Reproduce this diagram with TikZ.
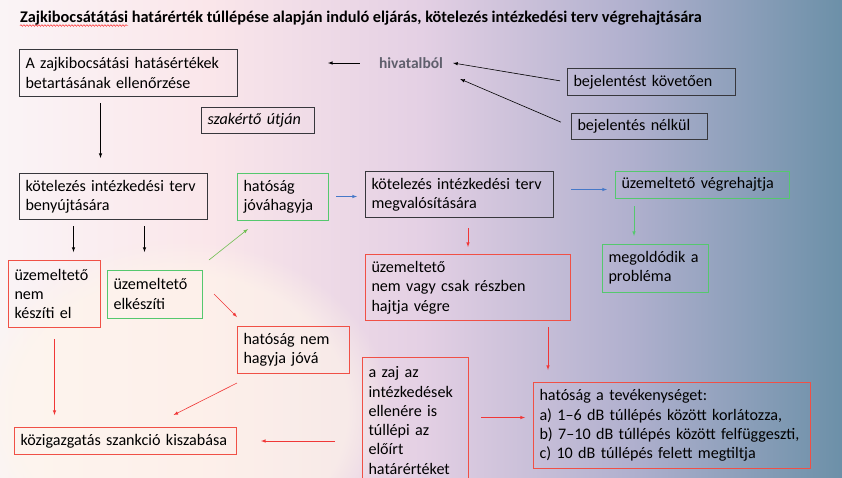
\documentclass[tikz,border=0pt]{standalone}
\usepackage{fontspec}
\setmainfont{Carlito}
\usepackage{tikz}
\usetikzlibrary{arrows, decorations.pathmorphing, fadings}
\definecolor{bgA}{RGB}{250,244,246}
\definecolor{bgB}{RGB}{250,230,234}
\definecolor{bgC}{RGB}{228,208,228}
\definecolor{bgD}{RGB}{176,176,206}
\definecolor{bgE}{RGB}{108,144,168}
\definecolor{bgcream}{RGB}{255,246,234}
\definecolor{bordgray}{RGB}{55,55,60}
\definecolor{bordgreen}{RGB}{85,200,110}
\definecolor{bordred}{RGB}{240,80,70}
\definecolor{arrred}{RGB}{240,55,55}
\definecolor{arrblue}{RGB}{70,120,200}
\definecolor{arrgreen}{RGB}{110,190,80}
\definecolor{hivgray}{RGB}{95,95,108}
\pgfdeclarehorizontalshading{backdrop}{100bp}{color(0bp)=(bgA); color(25bp)=(bgA); color(37.5bp)=(bgB); color(50bp)=(bgC); color(62.5bp)=(bgD); color(75bp)=(bgE); color(100bp)=(bgE)}
\tikzstyle{box} = [rectangle, anchor=north west, align=left, inner xsep=6pt, inner ysep=3pt, draw=bordgray, line width=1pt]
\tikzstyle{gbox} = [box, draw=none]
\tikzstyle{rbox} = [box, draw=bordred]
\tikzstyle{arrow} = [line width=0.6pt, ->, >=latex]
\tikzstyle{rarrow} = [arrow, draw=arrred]
\tikzstyle{barrow} = [arrow, draw=arrblue]
\tikzstyle{garrow} = [arrow, draw=arrgreen]

\begin{document}
\begin{tikzpicture}[x=1pt, y=-1pt, font=\fontsize{16.1}{19.3}\selectfont]
  \useasboundingbox (0,0) rectangle (842,477);
  \clip (0,0) rectangle (842,477);
  \shade [shading=backdrop] (0,0) rectangle (842,477);
  \fill [bgcream, path fading=circle with fuzzy edge 20 percent, opacity=0.6] (180,410) ellipse (210 and 170);

  \node (title) [anchor=base west, inner sep=0pt, font=\fontsize{16.3}{19}\selectfont\bfseries] at (20,22) {Zajkibocsátátási határérték túllépése alapján induló eljárás, kötelezés intézkedési terv végrehajtására};
  \draw [red, line width=0.4pt, decorate, decoration={snake, amplitude=0.8pt, segment length=3pt}] ([yshift=-3.5pt]title.base west) -- ++(108,0);

  \node (chk) [box, text width=206pt, minimum height=47pt] at (19,49) {A zajkibocsátási hatásértékek\\betartásának ellenőrzése};
  \node (hiv) [inner sep=2pt, text=hivgray, font=\fontsize{15.5}{19}\selectfont\bfseries] at (411,63) {hivatalból};
  \node (kov) [box, text width=156pt, minimum height=27pt] at (567,68) {bejelentést követően};
  \node (nel) [box, text width=124pt, minimum height=26pt] at (571,113) {bejelentés nélkül};
  \node (szak) [box, text width=101pt, minimum height=26pt, font=\fontsize{16.1}{19.3}\selectfont\itshape] at (201,107) {szakértő útján};

  \node (beny) [box, text width=176pt, minimum height=46pt] at (19,173) {kötelezés intézkedési terv\\benyújtására};
  \node (jova) [gbox, text width=78pt, minimum height=46pt] at (237,173) {hatóság\\jóváhagyja};
  \node (megv) [box, text width=176pt, minimum height=46pt] at (365,171) {kötelezés intézkedési terv\\megvalósítására};
  \node (vegr) [gbox, text width=161pt, minimum height=26pt] at (615,171) {üzemeltető végrehajtja};
  \node (megold) [gbox, text width=93pt, minimum height=47pt] at (602,244) {megoldódik a\\probléma};

  \node (nemk) [rbox, text width=80pt, minimum height=67pt] at (8,260) {üzemeltető\\nem\\készíti el};
  \node (elk) [gbox, text width=82pt, minimum height=47pt] at (107,270) {üzemeltető\\elkészíti};
  \node (resz) [rbox, text width=193pt, minimum height=66pt] at (365,254) {üzemeltető\\nem vagy csak részben\\hajtja végre};
  \node (nemj) [rbox, text width=100pt, minimum height=47pt] at (237,326) {hatóság nem\\hagyja jóvá};
  \node (zaj) [rbox, text width=94pt, minimum height=126pt] at (362,357) {a zaj az\\intézkedések\\ellenére is\\túllépi az\\előírt\\határértéket};
  \node (tev) [rbox, text width=265pt, minimum height=86pt] at (533,382) {hatóság a tevékenységet:\\a) 1--6 dB túllépés között korlátozza,\\b) 7--10 dB túllépés között felfüggeszti,\\c) 10 dB túllépés felett megtiltja};
  \node (kozig) [rbox, text width=210pt, minimum height=27pt] at (14,427) {közigazgatás szankció kiszabása};

  \foreach \n in {jova, vegr, megold, elk}
    \draw [bordgreen, line width=0.8pt] (\n.north west) rectangle (\n.south east);

  \draw [arrow, shorten <=17pt, shorten >=90pt] (hiv.west) -- (hiv.west -| chk.east);
  \draw [arrow, shorten <=7pt] (kov.west) -- ([xshift=8pt]hiv.east);
  \draw [arrow, shorten <=11pt] (nel.west) -- ([shift={(15pt,-16pt)}]hiv.east);
  \draw [arrow, shorten <=6pt, shorten >=15pt] ([xshift=-28pt]chk.south) -- ([xshift=-28pt]chk.south |- beny.north);
  \draw [arrow, shorten <=6pt, shorten >=8pt] ([xshift=-40pt]beny.south) -- ([xshift=-40pt]beny.south |- nemk.north);
  \draw [arrow, shorten <=6pt, shorten >=18pt] ([xshift=31pt]beny.south) -- ([xshift=31pt]beny.south |- elk.north);
  \draw [garrow] ([shift={(7pt,10pt)}]elk.north east) -- ([shift={(11pt,-9pt)}]jova.south west);
  \draw [rarrow] ([xshift=12pt]elk.east) -- ([yshift=9pt]nemj.north west);
  \draw [barrow, shorten <=8pt, shorten >=8pt] (jova.east) -- (jova.east -| megv.west);
  \draw [barrow, shorten <=17pt, shorten >=8pt] ([yshift=5pt]megv.east) -- ([yshift=5pt]megv.east -| vegr.west);
  \draw [garrow, draw=bordgreen, shorten <=8pt, shorten >=8pt] ([xshift=-21pt]megold.north |- vegr.south) -- ([xshift=-21pt]megold.north);
  \draw [rarrow, shorten <=10pt, shorten >=7pt] (resz.north |- megv.south) -- (resz.north);
  \draw [rarrow, shorten <=6pt, shorten >=12pt] ([xshift=80pt]resz.south) -- ([xshift=80pt]resz.south |- tev.north);
  \draw [rarrow, shorten <=12pt, shorten >=8pt] ([yshift=3pt]zaj.east) -- ([yshift=3pt]zaj.east -| tev.west);
  \draw [rarrow, shorten <=27pt, shorten >=24pt] (kozig.east -| zaj.west) -- (kozig.east);
  \draw [rarrow] ([yshift=-9pt]nemj.south west) -- ([shift={(48pt,12pt)}]kozig.north);
  \draw [rarrow, shorten <=11pt, shorten >=12pt] (nemk.south) -- (nemk.south |- kozig.north);
\end{tikzpicture}
\end{document}
